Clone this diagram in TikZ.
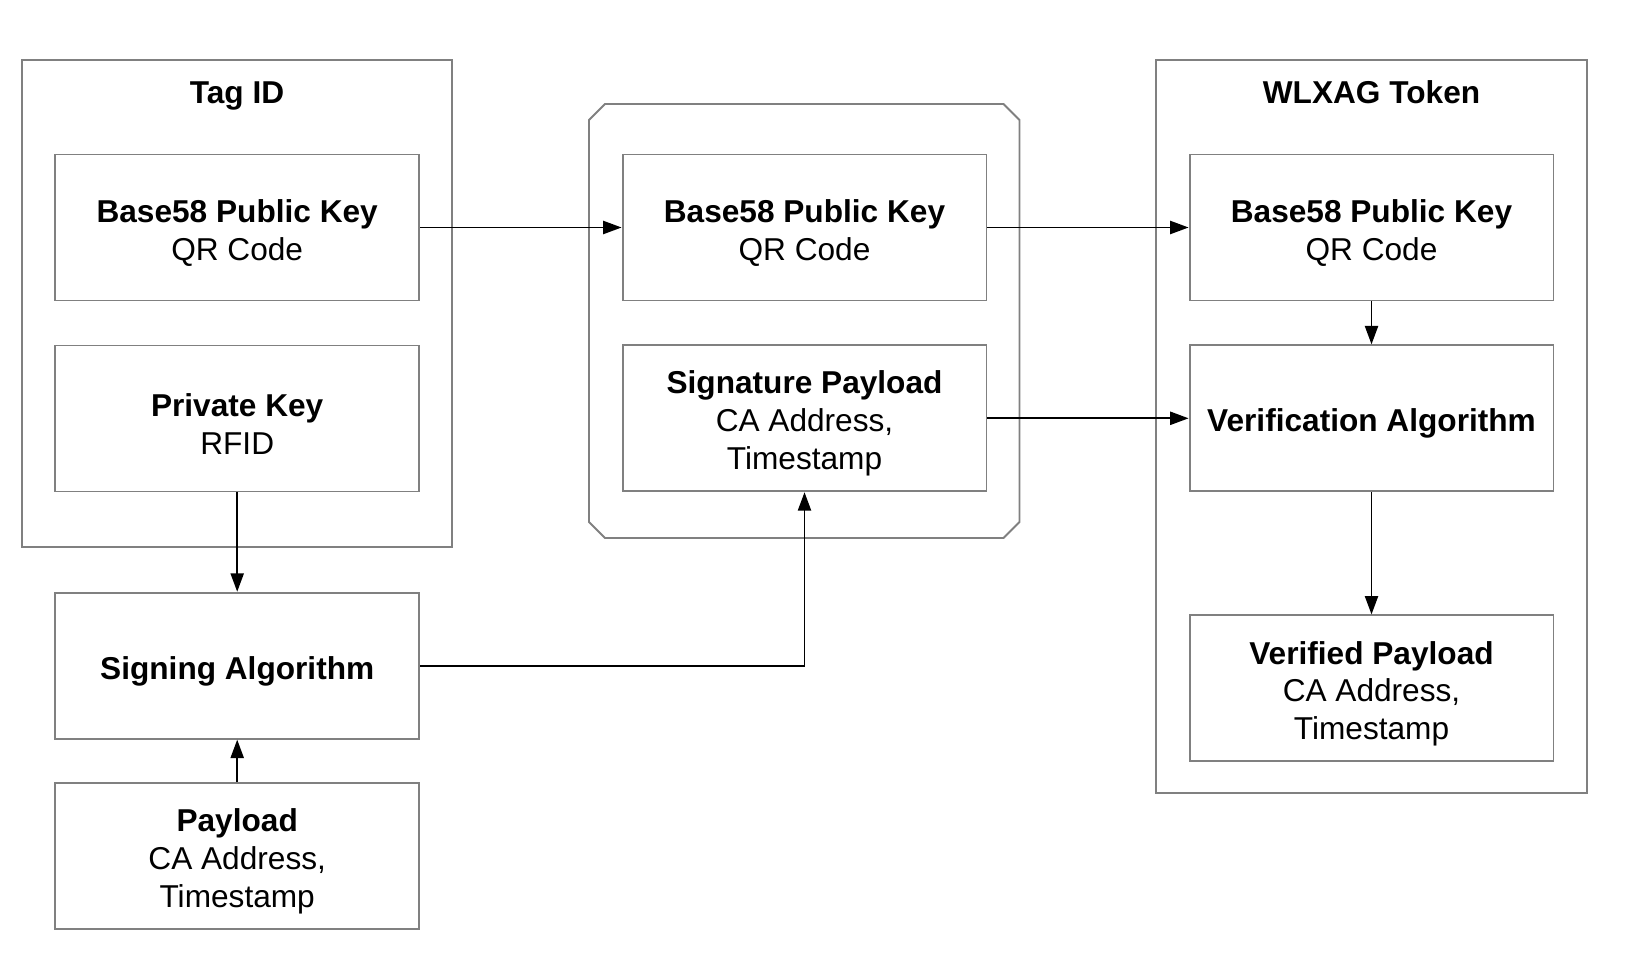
\documentclass[tikz,border=0pt]{standalone}
\usepackage{fontspec}
\setmainfont{Liberation Sans}
\usetikzlibrary{arrows.meta}
\definecolor{boxgray}{RGB}{128,128,128}
\newcommand{\topstrutx}{\rule{0pt}{19pt}}
\begin{document}
\begin{tikzpicture}[x=0.02cm,y=-0.02cm,
  blockbox/.style={draw=boxgray,line width=1.1pt,fill=white,inner sep=0pt,
    minimum width=7.28cm,minimum height=2.92cm,align=center,
    font=\fontsize{18}{21.5}\selectfont},
  groupbox/.style={draw=boxgray,line width=1.1pt,inner sep=0pt},
  titletext/.style={font=\fontsize{18}{21.5}\selectfont\bfseries,anchor=base},
  flow/.style={draw=black,line width=1pt,-{Triangle[length=10.5pt,width=7.5pt]}}]
\useasboundingbox (0,0) rectangle (1638,972);
% containers
\node[groupbox,minimum width=8.6cm,minimum height=9.75cm] (tagbox) at (237,303.3) {};
\node[groupbox,minimum width=8.61cm,minimum height=14.67cm] (tokbox) at (1371.6,426.3) {};
\draw[boxgray,line width=1.1pt] (589,120) -- (605,104) -- (1003.5,104) -- (1019.5,120)
  -- (1019.5,522) -- (1003.5,538) -- (605,538) -- (589,522) -- cycle;
% titles
\node[titletext] (tagtitle) at (237,103.5) {Tag ID};
\node[titletext] (toktitle) at (1371.5,103.5) {WLXAG Token};
% left column
\node[blockbox] (tbase) at (237.2,227.5) {\topstrutx\textbf{Base58 Public Key}\\QR Code};
\node[blockbox] (tpriv) at (237.2,418.5) {\topstrutx\textbf{Private Key}\\RFID};
\node[blockbox] (sign) at (237.2,665.7) {\topstrutx\textbf{Signing Algorithm}};
\node[blockbox] (payload) at (237.2,856) {\topstrutx\textbf{Payload}\\CA Address,\\Timestamp};
% middle column
\node[blockbox] (mbase) at (804.5,227.5) {\topstrutx\textbf{Base58 Public Key}\\QR Code};
\node[blockbox] (msig) at (804.5,418.3) {\topstrutx\textbf{Signature Payload}\\CA Address,\\Timestamp};
% right column
\node[blockbox] (rbase) at (1371.5,227.5) {\topstrutx\textbf{Base58 Public Key}\\QR Code};
\node[blockbox] (verif) at (1371.5,418.3) {\topstrutx\textbf{Verification Algorithm}};
\node[blockbox] (verified) at (1371.5,688.4) {\topstrutx\textbf{Verified Payload}\\CA Address,\\Timestamp};
% connectors
\draw[flow] (tbase.east) -- (mbase.west);
\draw[flow] (mbase.east) -- (rbase.west);
\draw[flow] (msig.east) -- (verif.west);
\draw[flow] (rbase.south) -- (verif.north);
\draw[flow] (verif.south) -- (verified.north);
\draw[flow] (tpriv.south) -- (sign.north);
\draw[flow] (payload.north) -- (sign.south);
\draw[flow] (sign.east) -| (msig.south);
\end{tikzpicture}
\end{document}
